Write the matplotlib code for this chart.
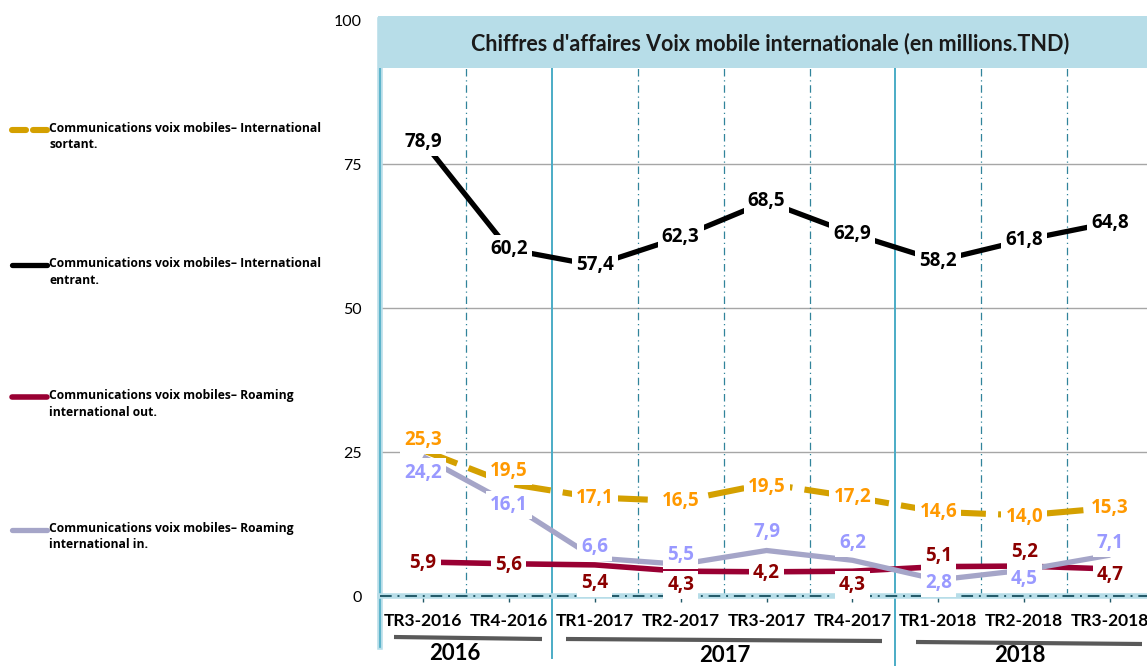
import matplotlib
matplotlib.use('Agg')
import matplotlib.pyplot as plt
from matplotlib.lines import Line2D
from matplotlib.patches import Rectangle
import numpy as np

# data
quarters = ['TR3-2016', 'TR4-2016', 'TR1-2017', 'TR2-2017', 'TR3-2017',
            'TR4-2017', 'TR1-2018', 'TR2-2018', 'TR3-2018']
years = ['2016', '2017', '2018']
sortant = [25.3, 19.5, 17.1, 16.5, 19.5, 17.2, 14.6, 14.0, 15.3]
entrant = [78.9, 60.2, 57.4, 62.3, 68.5, 62.9, 58.2, 61.8, 64.8]
roaming_out = [5.9, 5.6, 5.4, 4.3, 4.2, 4.3, 5.1, 5.2, 4.7]
roaming_in = [24.2, 16.1, 6.6, 5.5, 7.9, 6.2, 2.8, 4.5, 7.1]
names = ['Communications voix mobiles\u2013 International\nsortant.',
         'Communications voix mobiles\u2013 International\nentrant.',
         'Communications voix mobiles\u2013 Roaming\ninternational out.',
         'Communications voix mobiles\u2013 Roaming\ninternational in.']

# label vertical offsets (pixels)
off_sortant = [10, 13, 0, 0, -3, 0, 0, -2, 0]
off_entrant = [0, 0, 0, 0, 0, 0, 0, 0, 0]
off_out = [-1, -1, -18, -14, -1, -14, 11, 14, -6]
off_in = [-16, -2, 11, 9, 18, 17, -3, -9, 12]

W, H = 1147, 666
fig = plt.figure(figsize=(W / 100, H / 100), dpi=100)
ax = fig.add_axes([380 / W, 70 / H, 767 / W, 576 / H])
x = np.arange(len(quarters))
ax.set_xlim(-0.5, -0.5 + 767 / 85.9)
ax.set_ylim(0, 100)
for s in ax.spines.values():
    s.set_visible(False)

# grid
for g in [25, 50, 75]:
    ax.axhline(g, color='#a6a6a6', lw=1, zorder=1)
for b in [0.5, 2.5, 3.5, 4.5, 6.5, 7.5]:
    ax.axvline(b, color='#31849b', lw=0.9, ls=(0, (6, 3, 1, 3)), zorder=1)
trans = ax.get_xaxis_transform()
for b, ymin in [(1.5, -0.108), (5.5, -0.125)]:
    ax.plot([b, b], [ymin, 1], transform=trans, color='#4bacc6', lw=1.4,
            clip_on=False, zorder=2)
# left axis
ax.plot([-0.5, -0.5], [-0.088, 1], transform=trans, color='#b7dde8', lw=4,
        clip_on=False, zorder=2)
ax.plot([-0.5, -0.5], [-0.088, 1], transform=trans, color='#4bacc6', lw=1.2,
        clip_on=False, zorder=2)
# bottom axis
ax.axhline(0, color='#b7dde8', lw=4, zorder=2, clip_on=False)
ax.axhline(0, color='#215968', lw=1.4, ls=(0, (6, 3, 1, 3)), zorder=2, clip_on=False)

series = [
    (sortant, off_sortant, '#d4a000', '#ff9900', (0, (6, 2))),
    (entrant, off_entrant, '#000000', '#000000', '-'),
    (roaming_out, off_out, '#990033', '#8b0000', '-'),
    (roaming_in, off_in, '#a5a5c8', '#9999ff', '-'),
]
lws = [4.4, 3.8, 4.0, 3.8]
for (vals, offs, lc, tc, ls), lw in zip(series, lws):
    ax.plot(x, vals, color=lc, lw=lw, ls=ls, solid_capstyle='butt',
            dash_capstyle='butt', zorder=3)
for vals, offs, lc, tc, ls in series:
    for i, v in enumerate(vals):
        ax.annotate(f'{v:.1f}'.replace('.', ','), (i, v), xytext=(0, offs[i]),
                    textcoords='offset pixels', ha='center', va='center',
                    fontsize=13.5, fontweight='bold', family='Open Sans', color=tc,
                    bbox=dict(boxstyle='square,pad=0.22', fc='white', ec='none'),
                    zorder=5)

# ticks
ax.set_yticks([0, 25, 50, 75, 100])
ax.tick_params(axis='y', length=0, pad=13, labelsize=11.5)
for t in ax.get_yticklabels():
    t.set_family('Lato')
ax.set_xticks(x)
ax.set_xticklabels(quarters, fontsize=12.5, fontweight='bold', family='Lato')
ax.tick_params(axis='x', length=4, width=1, color='#215968', pad=8)

# title box
ax.add_patch(Rectangle((-0.003, 0.9167), 1.01, 0.09, transform=ax.transAxes,
                       fc='#b7dde8', ec='none', zorder=6, clip_on=False))
ax.text(0.508, 0.96, "Chiffres d'affaires Voix mobile internationale (en millions.TND)",
        transform=ax.transAxes, ha='center', va='center', fontsize=15.5,
        fontweight='bold', family='Lato', color='#1a1a1a', zorder=7)

# year labels with underline
year_x = [455, 725, 1020]
year_y = [654, 655, 655]
year_lines = [((394, 637), (542, 639)), ((566, 639), (882, 641)), ((916, 642), (1142, 644))]
for yr, xx, yy, (p0, p1) in zip(years, year_x, year_y, year_lines):
    fig.add_artist(Line2D([p0[0] / W, p1[0] / W], [1 - p0[1] / H, 1 - p1[1] / H],
                          color='#595959', lw=3, solid_capstyle='butt'))
    fig.text(xx / W, 1 - yy / H, yr, ha='center', va='center', fontsize=16,
             fontweight='bold', family='Lato')

# legend
leg_y = [130, 265, 397, 530]
for (vals, offs, lc, tc, ls), name, ly, lw in zip(series, names, leg_y, lws):
    yy = 1 - ly / H
    if ls == '-':
        fig.add_artist(Line2D([12 / W, 47 / W], [yy, yy], color=lc, lw=lw,
                              solid_capstyle='round'))
    else:
        for a, b in [(12, 26), (33, 47)]:
            fig.add_artist(Line2D([a / W, b / W], [yy, yy], color=lc, lw=lw,
                                  solid_capstyle='round'))
    fig.text(49 / W, 1 - (ly - 8) / H, name, ha='left', va='top', fontsize=8.7,
             fontweight='bold', family='Open Sans', linespacing=1.35)

plt.savefig('out.png', dpi=100)
